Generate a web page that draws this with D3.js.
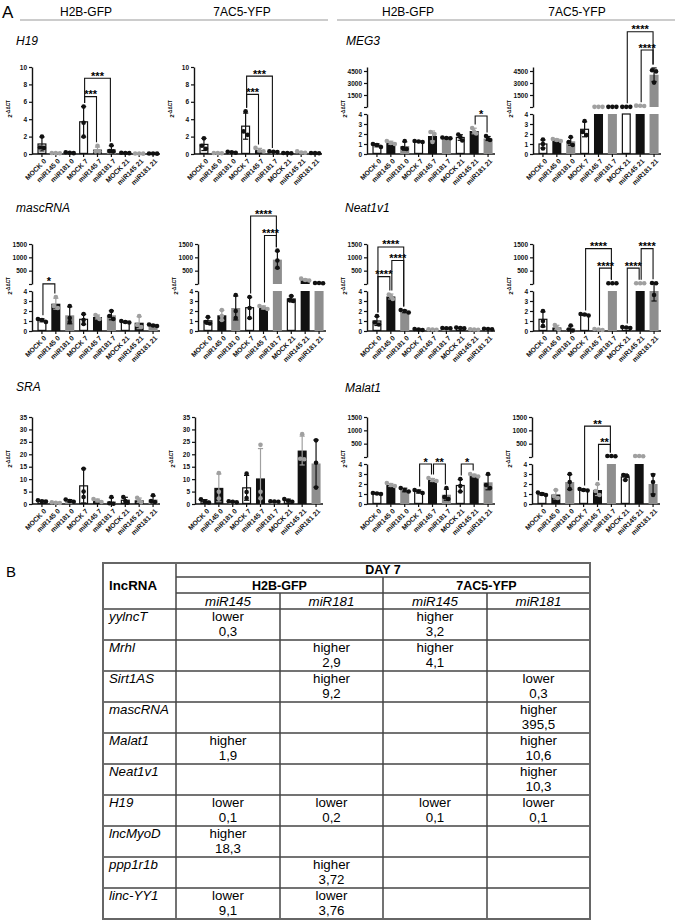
<!DOCTYPE html>
<html>
<head>
<meta charset="utf-8">
<script src="https://cdn.jsdelivr.net/npm/d3@7"></script>
<style>
  body { margin: 0; background: #fff; }
  svg { display: block; font-family: "Liberation Sans", Arial, sans-serif; }
</style>
</head>
<body>
<svg id="fig" width="675" height="921"></svg>
<script>
// Groups on the x axis (same for every panel)
const groups = ['MOCK 0', 'miR145 0', 'miR181 0', 'MOCK 7', 'miR145 7', 'miR181 7', 'MOCK 21', 'miR145 21', 'miR181 21'];

// H19
const h19H2bMean = [1.15, 0.1, 0.15, 3.7, 0.5, 0.55, 0.12, 0.05, 0.05];
const h19H2bSd = [0.8, 0.03, 0.05, 1.75, 0.3, 0.4, 0.04, 0.02, 0.02];
const h19H2bPts = [[2.0, 0.75, 0.7], [0.12, 0.1, 0.08], [0.2, 0.15, 0.1], [5.45, 3.6, 2.0], [0.95, 0.3, 0.3], [1.0, 0.35, 0.3], [0.15, 0.12, 0.1], [0.06, 0.05, 0.04], [0.06, 0.05, 0.04]];
const h19H2bBrackets = [{ a: 3, b: 4, level: 6.6, label: '***' }, { a: 3, b: 5, level: 8.7, label: '***' }];

const h19YfpMean = [1.1, 0.1, 0.2, 3.2, 0.45, 0.25, 0.1, 0.2, 0.1];
const h19YfpSd = [0.7, 0.03, 0.05, 1.5, 0.2, 0.05, 0.03, 0.08, 0.03];
const h19YfpPts = [[1.8, 0.95, 0.6], [0.12, 0.1, 0.08], [0.25, 0.2, 0.15], [4.9, 2.6, 2.2], [0.7, 0.4, 0.3], [0.3, 0.25, 0.22], [0.12, 0.1, 0.08], [0.3, 0.18, 0.15], [0.12, 0.1, 0.08]];
const h19YfpBrackets = [{ a: 3, b: 4, level: 6.85, label: '***' }, { a: 3, b: 5, level: 8.95, label: '***' }];

// MEG3
const meg3H2bMean = [0.87, 1.13, 0.8, 1.25, 1.8, 1.6, 1.65, 2.3, 1.55];
const meg3H2bSd = [0.15, 0.15, 0.42, 0.05, 0.5, 0.05, 0.28, 0.28, 0.2];
const meg3H2bPts = [[1.0, 0.9, 0.7], [1.3, 1.1, 1.0], [1.3, 0.6, 0.5], [1.3, 1.25, 1.2], [2.2, 2.0, 1.2], [1.65, 1.6, 1.57], [1.95, 1.7, 1.35], [2.6, 2.25, 2.05], [1.8, 1.5, 1.4]];
const meg3H2bBrackets = [{ a: 7, b: 8, level: 3.8, label: '*' }];

const meg3YfpMean = [1.0, 1.4, 1.27, 2.47, 20, 20, 20, 150, 4033];
const meg3YfpSd = [0.4, 0.1, 0.4, 0.75, 0, 0, 0, 20, 850];
const meg3YfpPts = [[1.45, 1.0, 0.55], [1.5, 1.4, 1.3], [1.7, 1.2, 0.9], [3.3, 2.2, 1.9], [20, 20, 20], [20, 20, 20], [20, 20, 20], [170, 150, 130], [4600, 4450, 3050]];
const meg3YfpBrackets = [{ a: 6, b: 8, level: 9400, label: '****' }, { a: 7, b: 8, level: 7125, label: '****' }];

// mascRNA
const mascH2bMean = [1.07, 2.73, 1.57, 1.17, 1.4, 1.57, 0.9, 0.83, 0.57];
const mascH2bSd = [0.15, 0.55, 0.85, 0.5, 0.2, 0.45, 0.08, 0.6, 0.08];
const mascH2bPts = [[1.2, 1.1, 0.9], [3.4, 2.5, 2.3], [2.5, 1.3, 0.9], [1.7, 1.1, 0.7], [1.6, 1.4, 1.2], [2.0, 1.5, 1.2], [1.0, 0.9, 0.85], [1.5, 0.6, 0.4], [0.65, 0.55, 0.5]];
const mascH2bBrackets = [{ a: 0, b: 1, level: 4.5, label: '*' }];

const mascYfpMean = [1.02, 1.57, 2.3, 2.33, 2.35, 913, 3.2, 160, 35];
const mascYfpSd = [0.35, 0.5, 1.2, 1.05, 0.15, 320, 0.3, 30, 5];
const mascYfpPts = [[1.4, 0.9, 0.75], [2.1, 1.5, 1.1], [3.6, 2.0, 1.3], [3.4, 2.3, 1.3], [2.5, 2.35, 2.2], [1250, 880, 610], [3.5, 3.1, 3.0], [200, 150, 130], [40, 35, 30]];
const mascYfpBrackets = [{ a: 3, b: 5, level: 2550, label: '****' }, { a: 4, b: 5, level: 1820, label: '****' }];

// Neat1v1
const neatH2bMean = [1.0, 3.45, 1.95, 0.15, 0.15, 0.28, 0.3, 0.15, 0.2];
const neatH2bSd = [0.45, 0.25, 0.12, 0.05, 0.03, 0.04, 0.06, 0.03, 0.04];
const neatH2bPts = [[1.5, 0.85, 0.65], [3.65, 3.5, 3.2], [2.1, 2.0, 1.85], [0.2, 0.15, 0.1], [0.17, 0.15, 0.13], [0.3, 0.28, 0.26], [0.35, 0.3, 0.26], [0.17, 0.15, 0.13], [0.22, 0.2, 0.18]];
const neatH2bBrackets = [{ a: 0, b: 1, level: 276, label: '****' }, { a: 1, b: 2, level: 883, label: '****' }, { a: 0, b: 2, level: 1390, label: '****' }];

const neatYfpMean = [1.17, 0.35, 0.25, 1.63, 0.15, 30, 0.35, 30, 22.9];
const neatYfpSd = [0.75, 0.22, 0.25, 0.08, 0.04, 0, 0.05, 0, 19.9];
const neatYfpPts = [[2.0, 1.0, 0.5], [0.6, 0.3, 0.15], [0.55, 0.15, 0.05], [1.7, 1.65, 1.55], [0.2, 0.15, 0.1], [30, 30, 30], [0.4, 0.35, 0.3], [30, 30, 30], [35, 30, 3.6]];
const neatYfpBrackets = [{ a: 3, b: 5, level: 1326, label: '****' }, { a: 4, b: 5, level: 594, label: '****' }, { a: 6, b: 7, level: 594, label: '****' }, { a: 7, b: 8, level: 1326, label: '****' }];

// SRA
const sraH2bMean = [1.2, 0.5, 1.3, 7.3, 1.4, 1.05, 1.5, 1.5, 1.8];
const sraH2bSd = [0.25, 0.15, 0.45, 6.9, 0.55, 1.5, 1.2, 0.9, 1.4];
const sraH2bPts = [[1.5, 1.1, 1.0], [0.7, 0.5, 0.4], [1.8, 1.2, 0.9], [14.2, 5.0, 2.8], [2.0, 1.4, 0.8], [2.8, 0.3, 0.1], [2.8, 1.2, 0.5], [2.5, 1.4, 0.7], [3.5, 1.2, 0.8]];
const sraH2bBrackets = [];

const sraYfpMean = [1.1, 6.5, 0.9, 6.5, 10.3, 1.0, 1.4, 21.5, 16.3];
const sraYfpSd = [0.65, 5.6, 0.2, 5.0, 12.0, 0.1, 0.55, 5.8, 9.5];
const sraYfpPts = [[1.9, 0.9, 0.6], [12.5, 4.9, 2.2], [1.1, 0.9, 0.7], [12.2, 4.8, 2.4], [23.8, 4.9, 2.3], [1.1, 1.0, 0.9], [2.0, 1.3, 0.9], [28.1, 18.2, 18.0], [25.6, 16.6, 6.6]];
const sraYfpBrackets = [];

// Malat1
const malatH2bMean = [1.05, 1.9, 1.4, 1.25, 2.4, 0.93, 1.85, 2.85, 2.17];
const malatH2bSd = [0.05, 0.15, 0.18, 0.15, 0.15, 0.55, 0.6, 0.12, 0.75];
const malatH2bPts = [[1.1, 1.05, 1.0], [2.1, 1.9, 1.8], [1.6, 1.4, 1.25], [1.4, 1.25, 1.1], [2.6, 2.4, 2.3], [1.6, 0.7, 0.5], [2.5, 1.8, 1.25], [3.0, 2.85, 2.75], [3.0, 1.9, 1.6]];
const malatH2bBrackets = [{ a: 3, b: 4, level: 4, label: '*' }, { a: 4, b: 5, level: 4, label: '**' }, { a: 6, b: 7, level: 4, label: '*' }];

const malatYfpMean = [1.0, 0.95, 2.2, 1.4, 1.4, 35, 2.7, 35, 2.0];
const malatYfpSd = [0.12, 0.45, 0.75, 0.08, 0.55, 0, 0.3, 0, 1.0];
const malatYfpPts = [[1.15, 1.0, 0.9], [1.4, 0.8, 0.6], [3.0, 2.2, 1.5], [1.5, 1.4, 1.35], [2.0, 1.3, 0.9], [40, 35, 30], [2.9, 2.8, 2.4], [40, 35, 30], [2.9, 2.2, 0.9]];
const malatYfpBrackets = [{ a: 3, b: 5, level: 1157, label: '**' }, { a: 4, b: 5, level: 474, label: '**' }];

// Axis ticks
const ticksH19 = [0, 2, 4, 6, 8, 10];
const ticksSra = [0, 5, 10, 15, 20, 25, 30, 35];
const ticksLow = [0, 1, 2, 3, 4];
const ticksMeg3High = [1500, 3000, 4500];
const ticksHigh = [500, 1000, 1500];

// Table B
const tableGenes = ['yylncT', 'Mrhl', 'Sirt1AS', 'mascRNA', 'Malat1', 'Neat1v1', 'H19', 'lncMyoD', 'ppp1r1b', 'linc-YY1'];
const tableH2b145 = ['lower|0,3', '', '', '', 'higher|1,9', '', 'lower|0,1', 'higher|18,3', '', 'lower|9,1'];
const tableH2b181 = ['', 'higher|2,9', 'higher|9,2', '', '', '', 'lower|0,2', '', 'higher|3,72', 'lower|3,76'];
const tableYfp145 = ['higher|3,2', 'higher|4,1', '', '', '', '', 'lower|0,1', '', '', ''];
const tableYfp181 = ['', '', 'lower|0,3', 'higher|395,5', 'higher|10,6', 'higher|10,3', 'lower|0,1', '', '', ''];

const panels = [
  { row: 0, x: 32, max: 10, ticks: ticksH19, mean: h19H2bMean, sd: h19H2bSd, pts: h19H2bPts, brackets: h19H2bBrackets },
  { row: 0, x: 194, max: 10, ticks: ticksH19, mean: h19YfpMean, sd: h19YfpSd, pts: h19YfpPts, brackets: h19YfpBrackets },
  { row: 0, x: 367, brk: { max: 5000, ticks: ticksMeg3High }, mean: meg3H2bMean, sd: meg3H2bSd, pts: meg3H2bPts, brackets: meg3H2bBrackets },
  { row: 0, x: 533, brk: { max: 5000, ticks: ticksMeg3High }, mean: meg3YfpMean, sd: meg3YfpSd, pts: meg3YfpPts, brackets: meg3YfpBrackets },
  { row: 1, x: 32, brk: { max: 1500, ticks: ticksHigh }, mean: mascH2bMean, sd: mascH2bSd, pts: mascH2bPts, brackets: mascH2bBrackets },
  { row: 1, x: 198, brk: { max: 1500, ticks: ticksHigh }, mean: mascYfpMean, sd: mascYfpSd, pts: mascYfpPts, brackets: mascYfpBrackets },
  { row: 1, x: 367, brk: { max: 1500, ticks: ticksHigh }, mean: neatH2bMean, sd: neatH2bSd, pts: neatH2bPts, brackets: neatH2bBrackets },
  { row: 1, x: 533, brk: { max: 1500, ticks: ticksHigh }, mean: neatYfpMean, sd: neatYfpSd, pts: neatYfpPts, brackets: neatYfpBrackets },
  { row: 2, x: 32, max: 35, ticks: ticksSra, mean: sraH2bMean, sd: sraH2bSd, pts: sraH2bPts, brackets: sraH2bBrackets },
  { row: 2, x: 195, max: 35, ticks: ticksSra, mean: sraYfpMean, sd: sraYfpSd, pts: sraYfpPts, brackets: sraYfpBrackets },
  { row: 2, x: 367, brk: { max: 1500, ticks: ticksHigh }, mean: malatH2bMean, sd: malatH2bSd, pts: malatH2bPts, brackets: malatH2bBrackets },
  { row: 2, x: 532, brk: { max: 1500, ticks: ticksHigh }, mean: malatYfpMean, sd: malatYfpSd, pts: malatYfpPts, brackets: malatYfpBrackets }
];

const svg = d3.select('#fig');
const rowZero = [154, 331, 504];
const FILL = { MOCK: '#fff', miR145: '#111', miR181: '#8e8e8e' };
const DOT = { MOCK: '#111', miR145: '#a0a0a0', miR181: '#111' };
const kind = g => g.split(' ')[0];
const intFmt = d3.format('d');

// Headers
svg.append('text').attr('x', 2).attr('y', 18).attr('font-size', 17).text('A');
[['H2B-GFP', 86], ['7AC5-YFP', 242], ['H2B-GFP', 408], ['7AC5-YFP', 577]].forEach(([t, cx]) => {
  svg.append('text').attr('x', cx).attr('y', 16).attr('text-anchor', 'middle').attr('font-size', 12).text(t);
});
svg.append('line').attr('x1', 20).attr('x2', 328).attr('y1', 20).attr('y2', 20).attr('stroke', '#999');
svg.append('line').attr('x1', 337).attr('x2', 675).attr('y1', 20).attr('y2', 20).attr('stroke', '#999');

[['H19', 16, 45], ['MEG3', 346, 45], ['mascRNA', 16, 212], ['Neat1v1', 345, 212], ['SRA', 16, 391], ['Malat1', 345, 392]].forEach(([t, x, y]) => {
  svg.append('text').attr('x', x).attr('y', y).attr('font-size', 12).attr('font-style', 'italic').text(t);
});

panels.forEach(drawPanel);

function styleAxis(sel) {
  sel.select('.domain').attr('stroke', '#111').attr('stroke-width', 1.4);
  sel.selectAll('.tick line').attr('stroke', '#111').attr('stroke-width', 1.2);
  sel.selectAll('.tick text').attr('font-size', 6.5).attr('font-weight', 'bold').attr('fill', '#111')
    .attr('font-family', '"Liberation Sans", Arial, sans-serif');
}

function drawPanel(p) {
  const y0 = rowZero[p.row];
  const g = svg.append('g');
  const x = d3.scaleBand().domain(groups).range([p.x + 3, p.x + 128]).paddingInner(0.35).paddingOuter(0.175);

  let yOf, lo, hi;
  if (p.brk) {
    lo = d3.scaleLinear().domain([0, 4]).range([y0, y0 - 40]);
    hi = d3.scaleLinear().domain([0, p.brk.max]).range([y0 - 47, y0 - 87]);
    yOf = v => v <= 4 ? lo(v) : hi(v);
    g.append('g').attr('transform', `translate(${p.x},0)`)
      .call(d3.axisLeft(lo).tickValues(ticksLow).tickFormat(intFmt).tickSize(3).tickSizeOuter(0).tickPadding(2))
      .call(styleAxis);
    g.append('g').attr('transform', `translate(${p.x},0)`)
      .call(d3.axisLeft(hi).tickValues([0].concat(p.brk.ticks)).tickFormat(d => d === 0 ? '' : intFmt(d))
        .tickSize(3).tickSizeOuter(0).tickPadding(2))
      .call(styleAxis);
  } else {
    yOf = d3.scaleLinear().domain([0, p.max]).range([y0, y0 - 87]);
    g.append('g').attr('transform', `translate(${p.x},0)`)
      .call(d3.axisLeft(yOf).tickValues(p.ticks).tickFormat(intFmt).tickSize(3).tickSizeOuter(0).tickPadding(2))
      .call(styleAxis);
  }

  // y label
  const yl = g.append('text').attr('transform', `translate(${p.x - 20},${y0 - 45}) rotate(-90)`)
    .attr('text-anchor', 'middle').attr('font-size', 6).attr('font-weight', 'bold');
  yl.append('tspan').text('2');
  yl.append('tspan').attr('font-size', 4.6).attr('dy', -2.5).text('-ΔΔCT');

  // x axis
  const xa = g.append('g').attr('transform', `translate(0,${y0})`)
    .call(d3.axisBottom(x).tickSize(3).tickSizeOuter(0));
  xa.select('.domain').remove();
  xa.selectAll('.tick line').attr('stroke', '#111').attr('stroke-width', 1.2);
  xa.selectAll('.tick text')
    .attr('font-size', 6.8).attr('font-weight', 'bold').attr('fill', '#111')
    .attr('font-family', '"Liberation Sans", Arial, sans-serif')
    .attr('x', 0).attr('y', 0).attr('dy', '0.35em')
    .attr('text-anchor', 'end')
    .attr('transform', 'translate(3,6) rotate(-45)');
  g.append('line').attr('x1', p.x).attr('x2', p.x + 128).attr('y1', y0).attr('y2', y0)
    .attr('stroke', '#111').attr('stroke-width', 1.4);

  const bw = x.bandwidth();
  groups.forEach((grp, i) => {
    const k = kind(grp);
    const cx = x(grp) + bw / 2;
    const v = p.mean[i];
    const stroke = k === 'MOCK' ? '#111' : 'none';
    const pieces = (p.brk && v > 4) ? [[lo(4), y0], [hi(v), y0 - 47]] : [[yOf(v), y0]];
    pieces.forEach(([top, bot]) => {
      g.append('rect').attr('x', x(grp) + (k === 'MOCK' ? 0.6 : 0)).attr('y', top)
        .attr('width', bw - (k === 'MOCK' ? 1.2 : 0)).attr('height', Math.max(0, bot - top - (k === 'MOCK' ? 0.6 : 0)))
        .attr('fill', FILL[k]).attr('stroke', stroke).attr('stroke-width', 1.2);
    });

    // error bar
    const sd = p.sd[i];
    const ec = DOT[k];
    if (sd > 0) {
      const yTop = yOf(v + sd);
      const lowV = v - sd;
      const yBot = yOf(Math.max(0, lowV));
      g.append('line').attr('x1', cx).attr('x2', cx).attr('y1', yTop).attr('y2', yBot)
        .attr('stroke', ec).attr('stroke-width', 1.2);
      g.append('line').attr('x1', cx - 2.6).attr('x2', cx + 2.6).attr('y1', yTop).attr('y2', yTop)
        .attr('stroke', ec).attr('stroke-width', 1.2);
      if (lowV > 0) {
        g.append('line').attr('x1', cx - 2.6).attr('x2', cx + 2.6).attr('y1', yBot).attr('y2', yBot)
          .attr('stroke', ec).attr('stroke-width', 1.2);
      }
    }

    // dots, spread sideways when they overlap
    const ys = p.pts[i].map(yOf);
    ys.forEach((y, j) => {
      const near = ys.map((o, m) => [o, m]).filter(([o]) => Math.abs(o - y) < 4);
      const idx = near.findIndex(([, m]) => m === j);
      const off = near.length === 1 ? 0 : (idx - (near.length - 1) / 2) * 4;
      g.append('circle').attr('cx', cx + off).attr('cy', y).attr('r', 2.3).attr('fill', DOT[k]);
    });
  });

  // significance brackets
  const dataTop = i => Math.min(yOf(p.mean[i] + p.sd[i]), ...p.pts[i].map(yOf)) - 3.5;
  p.brackets.forEach(b => {
    const xa1 = x(groups[b.a]) + bw / 2 + 1;
    const xb1 = x(groups[b.b]) + bw / 2 - 1;
    const yl1 = yOf(b.level);
    g.append('path')
      .attr('d', `M${xa1},${dataTop(b.a)}V${yl1}H${xb1}V${dataTop(b.b)}`)
      .attr('fill', 'none').attr('stroke', '#111').attr('stroke-width', 1.1);
    g.append('text').attr('x', (xa1 + xb1) / 2).attr('y', yl1 + 1.5)
      .attr('text-anchor', 'middle').attr('font-size', 11).attr('font-weight', 'bold').text(b.label);
  });
}

// ---- Table B ----
svg.append('text').attr('x', 6).attr('y', 577).attr('font-size', 15).text('B');

const tb = svg.append('g');
const colX = [103, 176, 280, 383, 487, 590];
const tTop = 563, rowH = 31, bodyTop = 609;
const tBottom = bodyTop + rowH * tableGenes.length;
const line = (x1, y1, x2, y2, w) => tb.append('line').attr('x1', x1).attr('y1', y1).attr('x2', x2).attr('y2', y2)
  .attr('stroke', '#444').attr('stroke-width', w || 1.5);

line(colX[1], 577, colX[5], 577);
line(colX[1], 593, colX[5], 593);
line(colX[0], bodyTop, colX[5], bodyTop);
tableGenes.forEach((gname, i) => line(colX[0], bodyTop + rowH * (i + 1), colX[5], bodyTop + rowH * (i + 1)));
line(colX[1], tTop, colX[1], tBottom);
line(colX[3], 577, colX[3], tBottom);
line(colX[2], 593, colX[2], tBottom);
line(colX[4], 593, colX[4], tBottom);
tb.append('rect').attr('x', colX[0]).attr('y', tTop).attr('width', colX[5] - colX[0]).attr('height', tBottom - tTop)
  .attr('fill', 'none').attr('stroke', '#666').attr('stroke-width', 2);

const ttext = (t, x, y, opts) => {
  const el = tb.append('text').attr('x', x).attr('y', y).attr('font-size', 13.3).text(t);
  Object.entries(opts || {}).forEach(([k, v]) => el.attr(k, v));
  return el;
};
ttext('lncRNA', 109, 590, { 'font-weight': 'bold' });
ttext('DAY 7', (colX[1] + colX[5]) / 2, 574, { 'font-weight': 'bold', 'text-anchor': 'middle', 'font-size': 12.5 });
ttext('H2B-GFP', (colX[1] + colX[3]) / 2, 590, { 'font-weight': 'bold', 'text-anchor': 'middle', 'font-size': 12.5 });
ttext('7AC5-YFP', (colX[3] + colX[5]) / 2, 590, { 'font-weight': 'bold', 'text-anchor': 'middle', 'font-size': 12.5 });
['miR145', 'miR181', 'miR145', 'miR181'].forEach((t, i) => {
  ttext(t, (colX[i + 1] + colX[i + 2]) / 2, 606, { 'font-style': 'italic', 'text-anchor': 'middle' });
});

const tableCols = [tableH2b145, tableH2b181, tableYfp145, tableYfp181];
tableGenes.forEach((gname, r) => {
  const top = bodyTop + rowH * r;
  ttext(gname, 109, top + 12, { 'font-style': 'italic' });
  tableCols.forEach((col, c) => {
    if (!col[r]) return;
    const [w1, w2] = col[r].split('|');
    const cx = (colX[c + 1] + colX[c + 2]) / 2;
    ttext(w1, cx, top + 12, { 'text-anchor': 'middle' });
    ttext(w2, cx, top + 27, { 'text-anchor': 'middle' });
  });
});
</script>
</body>
</html>
